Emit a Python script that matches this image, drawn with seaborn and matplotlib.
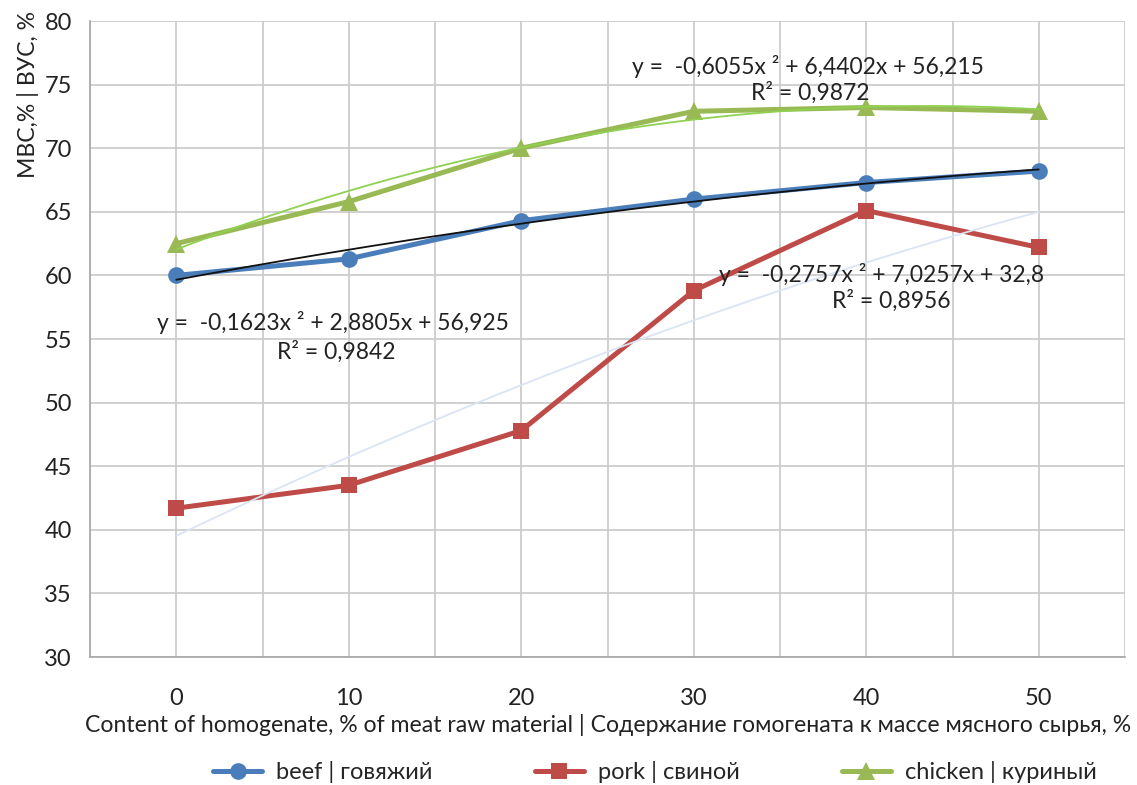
import numpy as np
import pandas as pd
import matplotlib
matplotlib.use("Agg")
import matplotlib.pyplot as plt
import seaborn as sns

categories = ["0", "10", "20", "30", "40", "50"]
beef = [60.0, 61.3, 64.3, 66.0, 67.3, 68.2]
pork = [41.7, 43.5, 47.8, 58.8, 65.1, 62.2]
chicken = [62.5, 65.8, 70.0, 72.9, 73.2, 72.9]
series_names = ["beef | говяжий", "pork | свиной", "chicken | куриный"]
eq_texts = ["y =  -0,1623x ² + 2,8805x + 56,925\nR² = 0,9842",
            "y =  -0,2757x ² + 7,0257x + 32,8\nR² = 0,8956",
            "y =  -0,6055x ² + 6,4402x + 56,215\nR² = 0,9872"]

sns.set_style("white")
plt.rcParams['font.family'] = ['Lato', 'DejaVu Sans']

colors = ["#4a7ebb", "#be4b48", "#98b954"]
trend_colors = ["#111111", "#dbe4f4", "#8fd150"]
markers = ["o", "s", "^"]
msizes = [12, 12, 13]

fig = plt.figure(figsize=(11.37, 7.85), dpi=100)
ax = fig.add_axes([90/1137, 1-657/785, (1125-90)/1137, (657-21)/785])

xpos = np.arange(len(categories))
for vals, name, c, m, ms in zip([beef, pork, chicken], series_names, colors, markers, msizes):
    df = pd.DataFrame({"x": xpos, "y": vals})
    sns.lineplot(data=df, x="x", y="y", ax=ax, color=c, lw=3.6, marker=m,
                 markersize=ms, markeredgewidth=0, label=name, zorder=3)

# polynomial trendlines (order 2), fitted on category index 1..6 like Excel
for vals, tc in zip([beef, pork, chicken], trend_colors):
    idx = np.arange(1, len(vals) + 1)
    coef = np.polyfit(idx, vals, 2)
    t = np.linspace(1, len(vals), 200)
    ax.plot(t - 1, np.polyval(coef, t), color=tc, lw=1.3, zorder=4)

ax.set_xlim(-0.5, 5.5)
ax.set_ylim(30, 80)
ax.set_yticks(np.arange(30, 81, 5))
ax.set_xticks(xpos)
ax.set_xticklabels(categories)
ax.set_xticks(np.arange(-0.5, 5.6, 1.0), minor=True)
ax.tick_params(axis="x", which="major", length=0, labelsize=17, pad=22, colors="#222222")
ax.tick_params(axis="x", which="minor", length=7, width=1.2, direction="out", color="#a6a6a6")
ax.tick_params(axis="y", which="major", length=7, width=1.2, direction="out", color="#a6a6a6",
               labelsize=17, pad=6, labelcolor="#222222")
ax.grid(True, which="both", color="#c8c8c8", lw=1.2)
ax.set_axisbelow(True)
for s in ["top", "right"]:
    ax.spines[s].set_visible(False)
for s in ["left", "bottom"]:
    ax.spines[s].set_color("#a6a6a6")
    ax.spines[s].set_linewidth(1.2)

ax.set_xlabel("")
ax.set_ylabel("")
fig.text(608/1137, 1-725/785, "Content of homogenate, % of meat raw material | Содержание гомогената к массе мясного сырья, %",
         ha="center", va="center", fontsize=16.6, color="#222222")
fig.text(28/1137, 1-95/785, "МВС,% | ВУС, %", rotation=90, ha="center", va="center",
         fontsize=16.6, color="#222222")

# equations
fs_eq = 16.5
fig.text(333/1137, 1-322/785, eq_texts[0].split("\n")[0], ha="center", va="center", fontsize=fs_eq, color="#222222")
fig.text(336/1137, 1-352/785, eq_texts[0].split("\n")[1], ha="center", va="center", fontsize=fs_eq, color="#222222")
fig.text(882/1137, 1-275/785, eq_texts[1].split("\n")[0], ha="center", va="center", fontsize=fs_eq, color="#222222")
fig.text(891/1137, 1-301/785, eq_texts[1].split("\n")[1], ha="center", va="center", fontsize=fs_eq, color="#222222")
fig.text(808/1137, 1-67/785, eq_texts[2].split("\n")[0], ha="center", va="center", fontsize=fs_eq, color="#222222")
fig.text(810/1137, 1-93/785, eq_texts[2].split("\n")[1], ha="center", va="center", fontsize=fs_eq, color="#222222")

h, l = ax.get_legend_handles_labels()
ax.get_legend().remove()
fig.legend(h, l, loc="center", bbox_to_anchor=(655/1137, 1-772/785), ncol=3, frameon=False,
           fontsize=17, handlelength=2.1, columnspacing=4.3, handletextpad=0.6)

fig.savefig("out.png", dpi=100)
